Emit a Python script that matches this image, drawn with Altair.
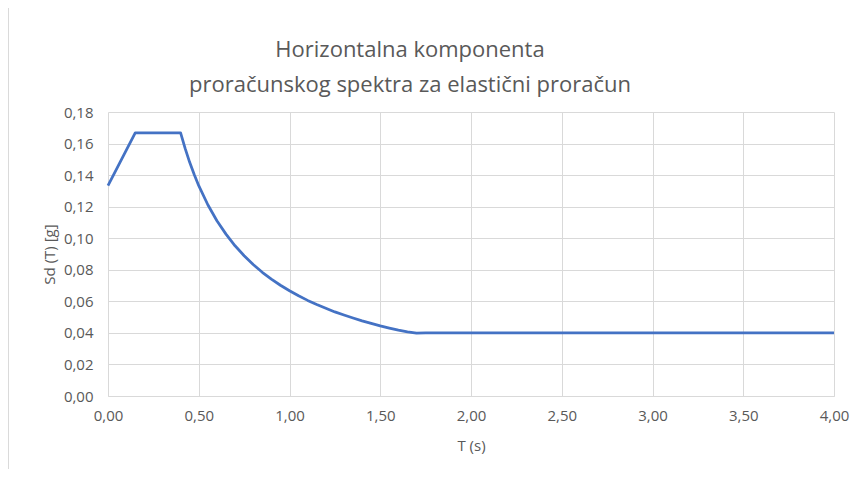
import altair as alt
import pandas as pd

T = [0.00, 0.15, 0.40, 0.425, 0.45, 0.475, 0.50, 0.55, 0.60, 0.65, 0.70, 0.75, 0.80, 0.85, 0.90, 0.95,
     1.00, 1.05, 1.10, 1.15, 1.20, 1.25, 1.30, 1.35, 1.40, 1.45, 1.50, 1.55, 1.60, 1.65, 1.70, 1.75,
     2.00, 2.50, 3.00, 3.50, 4.00]
Sd = [0.1333, 0.1667, 0.1667, 0.1569, 0.1481, 0.1404, 0.1333, 0.1212, 0.1111, 0.1026, 0.0952, 0.0889,
      0.0833, 0.0784, 0.0741, 0.0702, 0.0667, 0.0635, 0.0606, 0.0580, 0.0556, 0.0533, 0.0513, 0.0494,
      0.0476, 0.0460, 0.0444, 0.0430, 0.0417, 0.0406, 0.0398, 0.0400,
      0.0400, 0.0400, 0.0400, 0.0400, 0.0400]

title_lines = ["Horizontalna komponenta", "proračunskog spektra za elastični proračun"]
x_title = "T (s)"
y_title = "Sd (T) [g]"

df = pd.DataFrame({"T": T, "Sd": Sd})

FONT = "Open Sans"
GRAY = "#595959"
GRID = "#d9d9d9"
fmt = "replace(format(datum.value, '.2f'), '.', ',')"

line = alt.Chart(df).mark_line(color="#4472C4", strokeWidth=2.75, strokeJoin="round").encode(
    x=alt.X("T:Q", scale=alt.Scale(domain=[0, 4], nice=False),
            axis=alt.Axis(values=[0, 0.5, 1, 1.5, 2, 2.5, 3, 3.5, 4], title=x_title,
                          labelExpr=fmt, labelFlush=False, labelOverlap=False,
                          grid=True, gridColor=GRID, domainColor=GRID, ticks=False,
                          labelPadding=12, titlePadding=15, labelFontSize=15, titleFontSize=15,
                          labelColor=GRAY, titleColor=GRAY, labelFont=FONT, titleFont=FONT,
                          titleFontWeight="normal")),
    y=alt.Y("Sd:Q", scale=alt.Scale(domain=[0, 0.18], nice=False),
            axis=alt.Axis(values=[0, 0.02, 0.04, 0.06, 0.08, 0.10, 0.12, 0.14, 0.16, 0.18],
                          title=y_title, labelExpr=fmt, labelFlush=False, labelOverlap=False,
                          grid=True, gridColor=GRID, domain=False, ticks=False,
                          labelPadding=15, titlePadding=6, labelFontSize=15, titleFontSize=15,
                          labelColor=GRAY, titleColor=GRAY, labelFont=FONT, titleFont=FONT,
                          titleFontWeight="normal")),
)

tdf = pd.DataFrame({"txt": title_lines})
title1 = alt.Chart(tdf).transform_filter(alt.datum.txt == title_lines[0]).mark_text(
    font=FONT, fontSize=22, color=GRAY, align="center", baseline="alphabetic"
).encode(text="txt:N", x=alt.value(302), y=alt.value(-55))
title2 = alt.Chart(tdf).transform_filter(alt.datum.txt == title_lines[1]).mark_text(
    font=FONT, fontSize=22, color=GRAY, align="center", baseline="alphabetic"
).encode(text="txt:N", x=alt.value(302), y=alt.value(-20))

border = alt.Chart(df).mark_rule(color="#d9d9d9", strokeWidth=1).encode(
    x=alt.value(-100), y=alt.value(-104), y2=alt.value(365)
)

chart = alt.layer(line, title1, title2, border).properties(
    width=726, height=284,
    autosize=alt.AutoSizeParams(type="none"),
    padding={"left": 100, "top": 104, "right": 16, "bottom": 73},
).configure_view(stroke=None)

chart.save("out.html", embed_options={"renderer": "svg", "actions": False})
